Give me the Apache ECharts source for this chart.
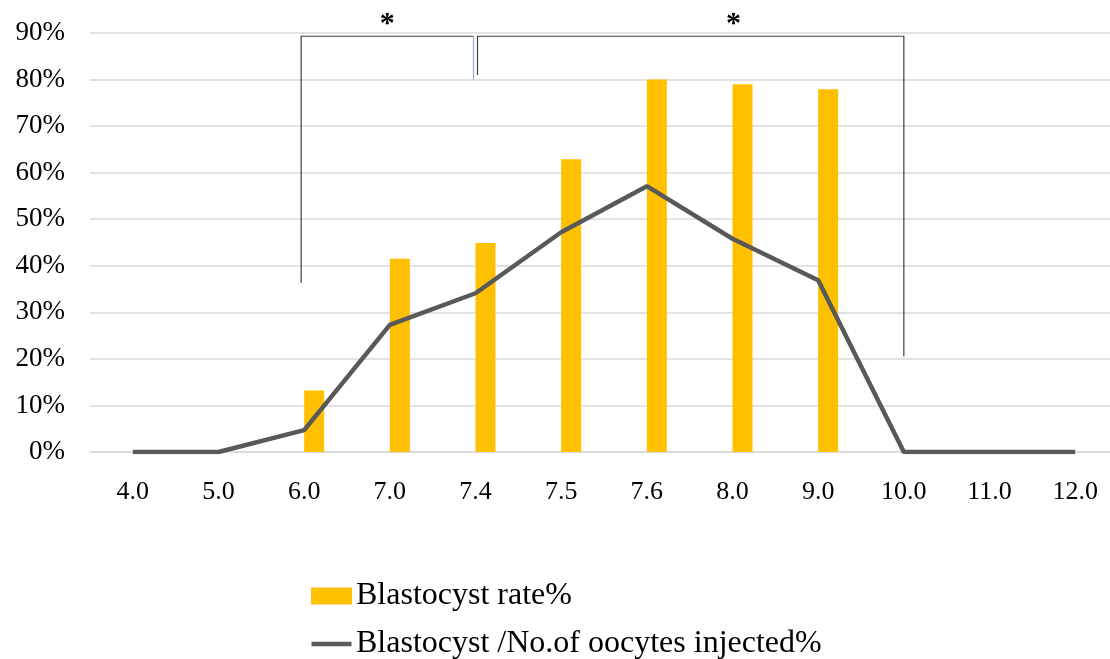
<!DOCTYPE html>
<html><head><meta charset="utf-8">
<script src="https://cdn.jsdelivr.net/npm/echarts@6/dist/echarts.min.js"></script>
<style>html,body{margin:0;padding:0;background:#fff}#c{width:1110px;height:659px}</style>
</head><body><div id="c"></div>
<script>
const categories = ['4.0','5.0','6.0','7.0','7.4','7.5','7.6','8.0','9.0','10.0','11.0','12.0'];
const blastocystRate = [null, null, 0.132, 0.415, 0.449, 0.629, 0.80, 0.79, 0.779, null, null, null];
const blastocystPerOocyte = [0, 0, 0.047, 0.273, 0.341, 0.472, 0.571, 0.458, 0.369, 0, 0, 0];
const seriesNames = ['Blastocyst rate%', 'Blastocyst /No.of oocytes injected%'];
// significance brackets: [fromCategory, toCategory, leftDropValue, rightDropValue, label]
const bracketA = ['6.0', '7.4', 0.363, 0.80, '*'];
const bracketB = ['7.4', '10.0', 0.810, 0.205, '*'];
const bracketTop = 0.893;

const FONT = '"Liberation Serif", "Times New Roman", serif';
const chart = echarts.init(document.getElementById('c'), null, {renderer: 'canvas'});
const option = {
  animation: false,
  backgroundColor: '#fff',
  grid: {left: 90, width: 1028, top: 33, bottom: 207, containLabel: false, outerBoundsMode: 'none'},
  xAxis: {
    type: 'category', data: categories,
    axisLine: {show: true, lineStyle: {color: '#d9d9d9', width: 1.5}},
    axisTick: {show: false},
    axisLabel: {color: '#000', fontFamily: FONT, fontSize: 26, margin: 27}
  },
  yAxis: {
    type: 'value', min: 0, max: 0.9, interval: 0.1,
    axisLine: {show: false}, axisTick: {show: false},
    splitLine: {lineStyle: {color: '#d9d9d9', width: 1.5}},
    axisLabel: {color: '#000', fontFamily: FONT, fontSize: 27, margin: 25,
      formatter: v => Math.round(v * 100) + '%'}
  },
  legend: {
    orient: 'vertical', left: 311, top: 580, width: 600, height: 200, itemGap: 16, padding: 0,
    itemWidth: 41, itemHeight: 17,
    textStyle: {color: '#000', fontFamily: FONT, fontSize: 32, lineHeight: 30, padding: [0,0,0,-1]},
    data: [
      {name: seriesNames[0], icon: 'rect'},
      {name: seriesNames[1], icon: 'path://M0,0L40,0L40,0Z M0,6.3L40,6.3L40,10.7L0,10.7Z M0,17L40,17L40,17Z'}
    ]
  },
  series: [
    {name: '_spacer', type: 'bar', data: categories.map(() => null), barWidth: 20, barGap: '0%'},
    {name: seriesNames[0], type: 'bar', data: blastocystRate, barWidth: 20, barGap: '0%',
      itemStyle: {color: '#FFC000'}},
    {name: seriesNames[1], type: 'line', data: blastocystPerOocyte, symbol: 'none',
      lineStyle: {color: '#595959', width: 4.5}, itemStyle: {color: '#595959'}, z: 5}
  ]
};
chart.setOption(option);

function px(cat, val) {
  return chart.convertToPixel({xAxisIndex: 0, yAxisIndex: 0}, [cat, val]);
}
const starStyle = {font: 'bold 30px ' + FONT, fill: '#000', align: 'center', verticalAlign: 'middle'};
// bracket A: 6.0 -> 7.4
const gA = (function(){
  const l = px(bracketA[0], bracketTop), r = px(bracketA[1], bracketTop);
  const lb = px(bracketA[0], bracketA[2]), rb = px(bracketA[1], bracketA[3]);
  const x1 = l[0] - 3, x2 = r[0] - 2, y = l[1];
  return [
    {type: 'polyline', shape: {points: [[x1, lb[1]], [x1, y], [x2, y]]},
      style: {stroke: '#404040', lineWidth: 1.2, fill: null}, z: 10},
    {type: 'line', shape: {x1: x2, y1: y, x2: x2, y2: rb[1]},
      style: {stroke: '#8eaadb', lineWidth: 1.2}, z: 10},
    {type: 'text', x: (x1 + x2) / 2, y: y - 12, style: Object.assign({text: bracketA[4]}, starStyle), z: 10}
  ];
})();
// bracket B: 7.4 -> 10.0
const gB = (function(){
  const l = px(bracketB[0], bracketTop), r = px(bracketB[1], bracketTop);
  const lb = px(bracketB[0], bracketB[2]), rb = px(bracketB[1], bracketB[3]);
  const x1 = l[0] + 2, x2 = r[0], y = l[1];
  const starX = px('8.0', 0)[0] + 1;
  return [
    {type: 'polyline', shape: {points: [[x1, lb[1]], [x1, y], [x2, y], [x2, rb[1]]]},
      style: {stroke: '#404040', lineWidth: 1.2, fill: null}, z: 10},
    {type: 'text', x: starX, y: y - 12, style: Object.assign({text: bracketB[4]}, starStyle), z: 10}
  ];
})();
chart.setOption({graphic: {elements: gA.concat(gB)}});
</script>
</body></html>
